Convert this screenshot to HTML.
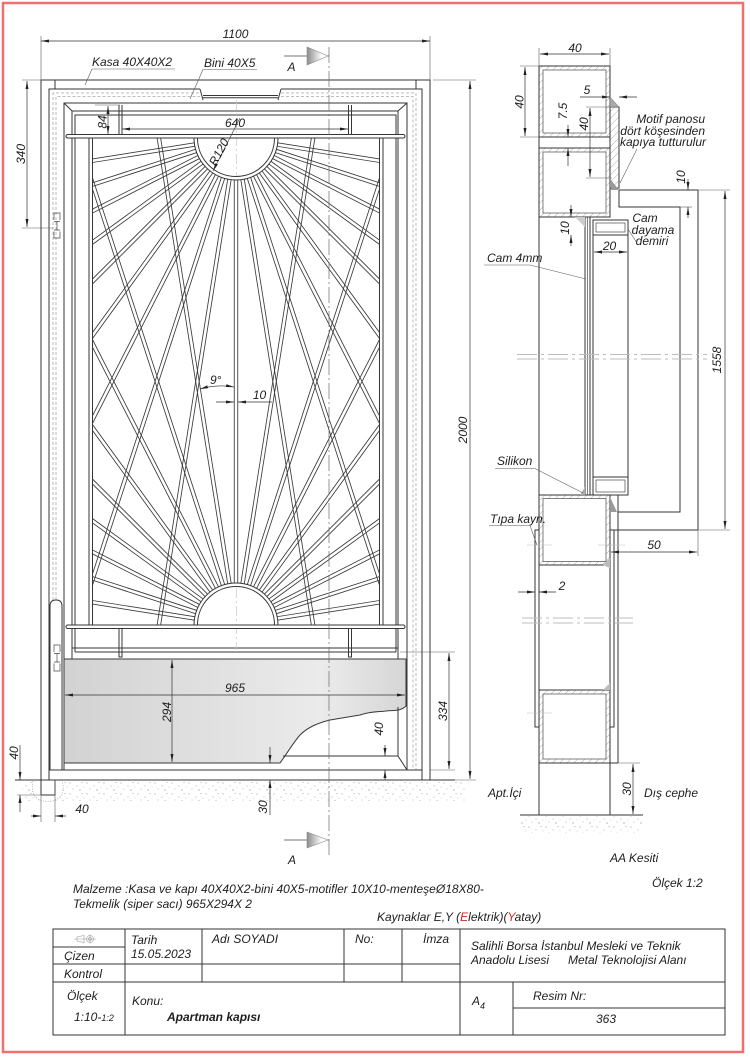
<!DOCTYPE html>
<html><head><meta charset="utf-8"><style>
html,body{margin:0;padding:0;background:#fff;width:750px;height:1060px;overflow:hidden;}
svg{display:block;}
text{font-family:"Liberation Sans",Arial,sans-serif;font-style:italic;fill:#1e1e1e;font-size:12px;}
.l{stroke:#363636;stroke-width:1;fill:none;}
.t{stroke:#4a4a4a;stroke-width:0.7;fill:none;}
.d{stroke:#333;stroke-width:0.7;fill:none;marker-start:url(#ar);marker-end:url(#ar);}
.e{stroke:#333;stroke-width:0.7;fill:none;marker-end:url(#ar);}
.x{stroke:#5a5a5a;stroke-width:0.6;fill:none;}
.ds{stroke:#a8a8a8;stroke-width:0.8;stroke-dasharray:3 2;fill:none;}
.cl{stroke:#6a6a6a;stroke-width:0.7;stroke-dasharray:16 3 2 3;fill:none;}
.br{stroke:#bdbdbd;stroke-width:1;stroke-dasharray:20 4 3 4;fill:none;}
</style></head><body>
<svg width="750" height="1060" viewBox="0 0 750 1060" xmlns="http://www.w3.org/2000/svg" xmlns:xlink="http://www.w3.org/1999/xlink">
<defs>
<marker id="ar" viewBox="0 0 8 3" refX="8" refY="1.5" markerWidth="8" markerHeight="3" orient="auto-start-reverse" markerUnits="userSpaceOnUse"><path d="M0,0 L8,1.5 L0,3 Z" fill="#222"/></marker>
<linearGradient id="tg" x1="0" x2="1" y1="0" y2="0"><stop offset="0" stop-color="#8a8a8a"/><stop offset="0.7" stop-color="#fff"/></linearGradient>
<linearGradient id="kg" x1="0" x2="1" y1="0" y2="0"><stop offset="0" stop-color="#d2d2d2"/><stop offset="0.75" stop-color="#ebebeb"/><stop offset="1" stop-color="#d6d6d6"/></linearGradient>
<pattern id="hh" width="5" height="5" patternUnits="userSpaceOnUse" patternTransform="rotate(45)"><rect width="5" height="5" fill="#fff"/><line x1="0" y1="0" x2="0" y2="5" stroke="#888" stroke-width="0.7"/></pattern>
<pattern id="st" width="17" height="11" patternUnits="userSpaceOnUse">
<circle cx="2" cy="2" r=".55" fill="#888"/><circle cx="9" cy="5" r=".5" fill="#999"/><circle cx="14" cy="1.5" r=".45" fill="#888"/><circle cx="5" cy="8" r=".5" fill="#aaa"/><circle cx="12" cy="9" r=".6" fill="#888"/><circle cx="16" cy="6" r=".4" fill="#999"/>
</pattern>
<clipPath id="pc"><rect x="92.5" y="138" width="287" height="487"/></clipPath>
<g id="r500"><path d="M-1.75,0 V500 M1.75,0 V500"/></g>
<g id="r320"><path d="M-1.75,0 V320 M1.75,0 V320"/></g>
<g id="r250"><path d="M-1.75,0 V250 M1.75,0 V250"/></g>
<g id="r210"><path d="M-1.75,0 V210 M1.75,0 V210"/></g>
<g id="r180"><path d="M-1.75,0 V180 M1.75,0 V180"/></g>
</defs>

<!-- page border -->
<rect x="3" y="3" width="740" height="1049" fill="none" stroke="#f07070" stroke-width="2.5"/>

<!-- ================= MAIN VIEW ================= -->
<rect x="22" y="781" width="445" height="20" fill="url(#st)"/>
<path d="M33,781 Q30,796 40,800 Q52,804 60,797 Q65,790 62,781" fill="#fff" stroke="#999" stroke-width="0.7" stroke-dasharray="1 1.5"/>

<!-- frame (kasa) -->
<path class="l" d="M41,795 V80 H430 V780"/>
<path class="l" d="M49,780 V89 H200 M281,89 H422 V780"/>
<path class="l" d="M55,80 V89 M416,80 V89"/>
<path class="l" d="M200,89 L203,100 M281,89 L278,100"/>
<path class="l" d="M203,95.5 H278 M203,97.8 H278"/>
<path class="ds" d="M53,770 V93 H200 M281,93 H416 V770"/>
<path class="ds" d="M56,770 V96.5 H200 M281,96.5 H413 V770"/>

<!-- leaf -->
<path class="l" d="M64,770 V103 H407 V770"/>
<path class="l" d="M72,756 V111 H398 V756"/>
<path class="l" d="M75,652 V115 H396 V652"/>
<path class="l" d="M64,103 L72,111 M407,103 L398,111"/>
<path class="l" d="M49,770 H422"/>
<path class="l" d="M72,648 H398 M75,652 H396"/>

<!-- hinge pin -->
<path class="l" style="fill:#fff" d="M50,770 V606 Q50,600 56,600 Q62,600 62,606 V770 Z"/>
<path class="l" d="M41,795 H55 V780"/>
<path class="t" d="M54,220 V213 H60 V220 M54,221.5 H60 M57,221.5 V230 M54,230 H60 M54,231.5 V238 H60 V231.5"/>
<path class="t" d="M54,652 V645 H60 V652 M54,653.5 H60 M57,653.5 V662 M54,662 H60 M54,663.5 V671 H60 V663.5"/>

<!-- floor -->
<path class="l" d="M15,780 H455"/>

<!-- motif panel -->
<path class="l" d="M89,138 V625 M92.5,138 V625 M379.5,138 V625 M383,138 V625"/>
<g clip-path="url(#pc)" stroke="#3a3a3a" stroke-width="0.85" fill="none">
<use href="#r500" transform="translate(236,138) rotate(0)"/>
<use href="#r500" transform="translate(236,138) rotate(9)"/>
<use href="#r500" transform="translate(236,138) rotate(18)"/>
<use href="#r320" transform="translate(236,138) rotate(27)"/>
<use href="#r250" transform="translate(236,138) rotate(36)"/>
<use href="#r210" transform="translate(236,138) rotate(45)"/>
<use href="#r180" transform="translate(236,138) rotate(54)"/>
<use href="#r180" transform="translate(236,138) rotate(63)"/>
<use href="#r180" transform="translate(236,138) rotate(72)"/>
<use href="#r180" transform="translate(236,138) rotate(81)"/>
<use href="#r500" transform="translate(236,138) rotate(-9)"/>
<use href="#r500" transform="translate(236,138) rotate(-18)"/>
<use href="#r320" transform="translate(236,138) rotate(-27)"/>
<use href="#r250" transform="translate(236,138) rotate(-36)"/>
<use href="#r210" transform="translate(236,138) rotate(-45)"/>
<use href="#r180" transform="translate(236,138) rotate(-54)"/>
<use href="#r180" transform="translate(236,138) rotate(-63)"/>
<use href="#r180" transform="translate(236,138) rotate(-72)"/>
<use href="#r180" transform="translate(236,138) rotate(-81)"/>
<use href="#r500" transform="translate(236,625) rotate(189)"/>
<use href="#r500" transform="translate(236,625) rotate(198)"/>
<use href="#r320" transform="translate(236,625) rotate(207)"/>
<use href="#r250" transform="translate(236,625) rotate(216)"/>
<use href="#r210" transform="translate(236,625) rotate(225)"/>
<use href="#r180" transform="translate(236,625) rotate(234)"/>
<use href="#r180" transform="translate(236,625) rotate(243)"/>
<use href="#r180" transform="translate(236,625) rotate(252)"/>
<use href="#r180" transform="translate(236,625) rotate(261)"/>
<use href="#r500" transform="translate(236,625) rotate(171)"/>
<use href="#r500" transform="translate(236,625) rotate(162)"/>
<use href="#r320" transform="translate(236,625) rotate(153)"/>
<use href="#r250" transform="translate(236,625) rotate(144)"/>
<use href="#r210" transform="translate(236,625) rotate(135)"/>
<use href="#r180" transform="translate(236,625) rotate(126)"/>
<use href="#r180" transform="translate(236,625) rotate(117)"/>
<use href="#r180" transform="translate(236,625) rotate(108)"/>
<use href="#r180" transform="translate(236,625) rotate(99)"/>
</g>
<!-- suns -->
<path class="l" style="fill:#fff" d="M194,138 A42,42 0 0 0 278,138 Z"/>
<path class="l" d="M197.5,138 A38.5,38.5 0 0 0 274.5,138"/>
<path class="l" style="fill:#fff" d="M194,625 A42,42 0 0 1 278,625 Z"/>
<path class="l" d="M197.5,625 A38.5,38.5 0 0 1 274.5,625"/>
<path d="M236.5,100 V176 M236.5,588 V650" stroke="#c8c8c8" stroke-width="0.7" stroke-dasharray="10 3 2 3"/>

<!-- rails & stubs -->
<rect class="l" style="fill:#fff" x="66" y="134.5" width="339" height="3.5" rx="1.7"/>
<path class="l" d="M119,105 V134.5 M122,105 V134.5 M348.5,105 V134.5 M351.5,105 V134.5"/>
<rect class="l" style="fill:#fff" x="66" y="625" width="339" height="3.5" rx="1.7"/>
<path class="l" d="M119,628.5 V657 H122 V628.5 M348.5,628.5 V657 H351.5 V628.5"/>

<!-- kick plate -->
<path d="M64,659 H406 V706 C400,712 392,710 386,711 C376,712 368,712 360,715 L330,720 C318,723 308,727 300,735 C293,743 288,752 280,763 H64 Z" fill="url(#kg)" stroke="#3a3a3a" stroke-width="1"/>
<path class="l" d="M398,707 V756 H283 M398,756 L407,770"/>

<!-- section line A -->
<path class="cl" d="M329,47 V858"/>
<path class="t" d="M284,56 H329"/>
<polygon points="307,47 307,65 328,56" fill="url(#tg)" stroke="#8a8a8a" stroke-width="0.6"/>
<text x="291.5" y="71" text-anchor="middle">A</text>
<path class="t" d="M284,840 H329"/>
<polygon points="307,832 307,848 328,840" fill="url(#tg)" stroke="#8a8a8a" stroke-width="0.6"/>
<text x="292" y="864" text-anchor="middle">A</text>

<!-- labels -->
<text x="92" y="66">Kasa 40X40X2</text>
<path class="x" d="M92,69 H175 M92,69 L85,85"/>
<text x="204" y="67">Bini 40X5</text>
<path class="x" d="M203,69.5 H257 M203,69.5 L190,99"/>

<!-- dims main -->
<path class="x" d="M41,36 V80 M430,36 V80"/>
<path class="d" d="M41,41 H430"/>
<text x="235.5" y="38" text-anchor="middle">1100</text>

<path class="x" d="M22,80 H41 M22,228 H53"/>
<path class="d" d="M27,81 V227"/>
<text transform="translate(25,154) rotate(-90)" text-anchor="middle">340</text>

<path class="x" d="M95,105 H120"/>
<path class="d" d="M108,106 V134"/>
<text transform="translate(106.5,122) rotate(-90)" text-anchor="middle">84</text>

<path class="d" d="M122,129 H348"/>
<text x="235" y="127" text-anchor="middle">640</text>

<path class="t" d="M240,118 L213,171" marker-end="url(#ar)"/>
<text transform="translate(222.5,154) rotate(-62)" text-anchor="middle">R120</text>

<path class="t" d="M200,389 Q217,384 234,387" marker-start="url(#ar)" marker-end="url(#ar)"/>
<text x="210" y="384" font-size="11">9°</text>
<path class="e" d="M216,402 H234"/>
<path class="e" d="M272,402 H238"/>
<text x="259.5" y="399" text-anchor="middle">10</text>

<path class="d" d="M65,695 H405"/>
<text x="235" y="692" text-anchor="middle">965</text>
<path class="d" d="M172,660 V762"/>
<text transform="translate(171,712) rotate(-90)" text-anchor="middle">294</text>

<path class="x" d="M400,652 H455 M430,770 H455"/>
<path class="d" d="M449,653 V769"/>
<text transform="translate(447,711) rotate(-90)" text-anchor="middle">334</text>

<path class="x" d="M433,80 H476 M455,780 H476"/>
<path class="d" d="M470,81 V779"/>
<text transform="translate(467,430) rotate(-90)" text-anchor="middle">2000</text>

<path class="e" d="M385,745 V756"/>
<path class="e" d="M385,780 V770"/>
<text transform="translate(383,729) rotate(-90)" text-anchor="middle">40</text>

<path class="e" d="M270,747 V763"/>
<path class="e" d="M270,815 V780"/>
<text transform="translate(267,807) rotate(-90)" text-anchor="middle">30</text>

<path class="x" d="M17,795 H41"/>
<path class="e" d="M20,745 V780"/>
<path class="e" d="M20,812 V795"/>
<text transform="translate(18,753) rotate(-90)" text-anchor="middle">40</text>

<path class="x" d="M41,795 V822 M55,780 V822"/>
<path class="e" d="M31,816 H41"/>
<path class="e" d="M66,816 H55"/>
<text x="82" y="813" text-anchor="middle">40</text>

<!-- ================= SECTION AA ================= -->
<rect x="520" y="816" width="122" height="17" fill="url(#st)"/>
<path class="l" d="M520,815 H643"/>

<path class="l" d="M539,66 V815"/>
<path class="l" d="M610,66 V217 M610,495 V815"/>

<rect x="539" y="66" width="71" height="71" fill="url(#hh)" stroke="#363636" stroke-width="1"/>
<rect class="t" style="fill:#fff" x="543" y="70" width="63" height="63"/>
<rect x="539" y="148" width="71" height="69" fill="url(#hh)" stroke="#363636" stroke-width="1"/>
<rect class="t" style="fill:#fff" x="543" y="152" width="63" height="61"/>

<rect x="610" y="107" width="9" height="81" fill="url(#hh)" stroke="#363636" stroke-width="1"/>
<polygon points="610,97 610,107 619,107" fill="#aaa" stroke="#666" stroke-width="0.5"/>
<polygon points="611,180 619,190 611,190" fill="#999"/>

<path class="l" d="M619,190 H698 V530 H610 M619,190 V207 H680 V512 H618"/>

<path class="l" d="M585,217 V495 M590,217 V495"/>
<path class="t" d="M587.5,217 V495"/>
<polygon points="575,217 585,217 585,227" fill="#ccc"/>

<rect class="l" x="593" y="220" width="35" height="15"/>
<rect class="t" x="596" y="223" width="29" height="9"/>
<path class="l" d="M593,235 V477 M628,235 V477"/>
<rect class="l" x="593" y="477" width="35" height="18"/>
<rect class="t" x="596" y="480" width="29" height="12"/>

<rect x="539" y="495" width="71" height="70" fill="url(#hh)" stroke="#363636" stroke-width="1"/>
<rect class="t" style="fill:#fff" x="543" y="498.5" width="63" height="63"/>
<polygon points="580,495 585,487 585,495" fill="#aaa"/>
<polygon points="610,497 617,512 610,512" fill="#999"/>
<polygon points="603,565 610,558 610,568" fill="#bbb"/>

<path class="l" d="M539,530 H535 V727 H539"/>
<path class="l" d="M610,530 H614 V727 H610"/>
<path class="l" d="M618,495 V763"/>

<rect x="539" y="690" width="71" height="73" fill="url(#hh)" stroke="#363636" stroke-width="1"/>
<rect class="t" style="fill:#fff" x="543" y="694" width="63" height="65"/>
<polygon points="603,690 610,683 610,690" fill="#bbb"/>
<path class="l" d="M539,763 H618"/>

<path d="M527,545 H552 M598,545 H625 M527,713 H552" stroke="#bbb" stroke-width="0.6"/>

<path class="br" d="M517,354.5 H707 M517,359 H707"/>
<path class="br" d="M522,618 H633 M522,623 H633"/>

<path class="x" d="M539,48 V66 M610,48 V66"/>
<path class="d" d="M540,54 H609"/>
<text x="575" y="52" text-anchor="middle">40</text>

<path class="x" d="M520,66 H539 M520,137 H539"/>
<path class="d" d="M525,67 V136"/>
<text transform="translate(523.5,102) rotate(-90)" text-anchor="middle">40</text>

<path class="e" d="M580,97 H610"/>
<path class="e" d="M637,97 H619"/>
<text x="587" y="94" text-anchor="middle">5</text>

<path class="e" d="M568,125 V137"/>
<path class="e" d="M568,166 V148"/>
<text transform="translate(567,111) rotate(-90)" text-anchor="middle">7.5</text>

<path class="x" d="M586,107 H610 M586,178 H612"/>
<path class="d" d="M590,108 V177"/>
<text transform="translate(588,124) rotate(-90)" text-anchor="middle">40</text>

<path class="x" d="M680,207 H692"/>
<path class="e" d="M688,179 V190"/>
<path class="e" d="M688,218 V207"/>
<text transform="translate(685,177) rotate(-90)" text-anchor="middle">10</text>

<path class="x" d="M699,190 H730 M699,530 H730"/>
<path class="d" d="M725,191 V529"/>
<text transform="translate(721,360) rotate(-90)" text-anchor="middle">1558</text>

<path class="x" d="M698,530 V556"/>
<path class="d" d="M611,552 H697"/>
<text x="654" y="549" text-anchor="middle">50</text>

<path class="d" d="M594,252 H627"/>
<text x="609.5" y="250" text-anchor="middle">20</text>

<path class="e" d="M571,205 V217"/>
<path class="e" d="M571,246 V235"/>
<text transform="translate(569,228) rotate(-90)" text-anchor="middle">10</text>

<path class="e" d="M518,592 H535"/>
<path class="e" d="M556,592 H539"/>
<text x="562" y="590" text-anchor="middle">2</text>

<path class="x" d="M618,763 H640"/>
<path class="d" d="M633,764 V814"/>
<text transform="translate(631,789) rotate(-90)" text-anchor="middle">30</text>

<text x="705" y="123" font-size="10" text-anchor="end">Motif panosu</text>
<text x="705" y="135" font-size="10" text-anchor="end">dört köşesinden</text>
<text x="706" y="146" font-size="10" text-anchor="end">kapıya tutturulur</text>
<path class="x" d="M637,149 L620,183"/>

<text x="645" y="222" font-size="10" text-anchor="middle">Cam</text>
<text x="653" y="234" font-size="10" text-anchor="middle">dayama</text>
<text x="652" y="245" font-size="10" text-anchor="middle">demiri</text>
<path class="x" d="M628,229 L637,243"/>

<text x="487" y="262" font-size="10">Cam 4mm</text>
<path class="x" d="M484,265 H530 L586,279"/>

<text x="497" y="465">Silikon</text>
<path class="x" d="M495,468.5 H535 L583,493"/>

<text x="490" y="523" font-size="8.5">Tıpa kayn.</text>
<path class="x" d="M489,525.5 H530 L537,545"/>

<text x="488" y="797">Apt.İçi</text>
<text x="644" y="797">Dış cephe</text>
<text x="610" y="862" font-size="14">AA Kesiti</text>
<text x="652" y="887">Ölçek 1:2</text>

<!-- ================= NOTES ================= -->
<text x="73" y="893">Malzeme :Kasa ve kapı 40X40X2-bini 40X5-motifler 10X10-menteşeØ18X80-</text>
<text x="73" y="908">Tekmelik (siper sacı) 965X294X 2</text>
<text x="377" y="921">Kaynaklar E,Y (<tspan fill="#e02020">E</tspan>lektrik)(<tspan fill="#e02020">Y</tspan>atay)</text>

<!-- ================= TITLE BLOCK ================= -->
<rect x="53" y="929" width="672" height="106" fill="none" stroke="#333" stroke-width="1"/>
<path class="l" d="M53,947 H125 M53,964 H460 M53,982 H725 M513,1008 H725"/>
<path class="l" d="M125,929 V1035 M202,929 V982 M344,929 V982 M402,929 V982 M460,929 V1035 M513,982 V1035"/>
<g stroke="#999" stroke-width="0.6" fill="none">
<path d="M77,937 L84,935.5 V942.5 L77,941 Z"/>
<circle cx="90" cy="939" r="3.5"/><circle cx="90" cy="939" r="1.5"/>
<path d="M74,939 H96 M90,934.5 V943.5"/>
</g>
<text x="131" y="944">Tarih</text>
<text x="212" y="943">Adı SOYADI</text>
<text x="355" y="943">No:</text>
<text x="423" y="943">İmza</text>
<text x="64" y="960">Çizen</text>
<text x="131" y="958">15.05.2023</text>
<text x="64" y="978">Kontrol</text>
<text x="471" y="950">Salihli Borsa İstanbul Mesleki ve Teknik</text>
<text x="471" y="964">Anadolu Lisesi</text>
<text x="568" y="964">Metal Teknolojisi Alanı</text>
<text x="67" y="1000">Ölçek</text>
<text x="74" y="1021">1:10-<tspan font-size="9">1:2</tspan></text>
<text x="132" y="1005" font-size="14">Konu:</text>
<text x="167" y="1021" font-size="14.5" font-weight="bold">Apartman kapısı</text>
<text x="472" y="1005" font-size="13">A<tspan font-size="9" dy="4">4</tspan></text>
<text x="533" y="1000">Resim Nr:</text>
<text x="596" y="1023">363</text>
</svg>
</body></html>
